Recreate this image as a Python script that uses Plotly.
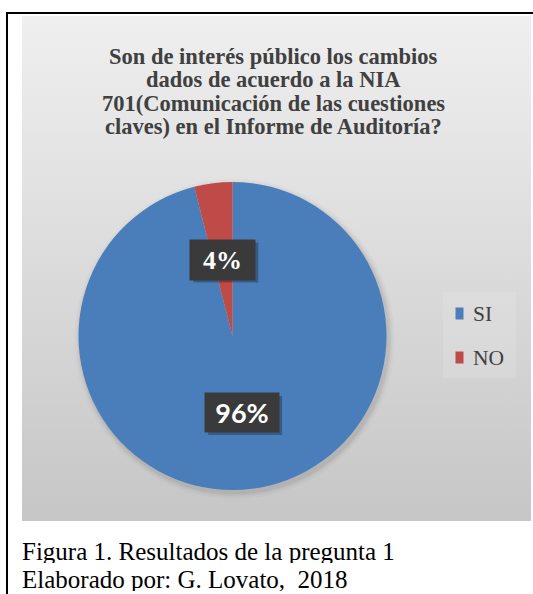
import numpy as np
import plotly.graph_objects as go

W, H = 533, 594

# ---- data -------------------------------------------------------------
title_lines = [
    "Son de interés público los cambios",
    "dados de acuerdo a la NIA",
    "701(Comunicación de las cuestiones",
    "claves) en el Informe de Auditoría?",
]
categories = ["SI", "NO"]
percentages = [96, 4]
caption_lines = [
    "Figura 1. Resultados de la pregunta 1",
    "Elaborado por: G. Lovato,  2018",
]

# ---- styling ----------------------------------------------------------
slice_colors = ["#4a7ebb", "#be4b48"]
SERIF = "Liberation Serif"
label_fonts = [dict(family="Lato", size=27, color="white", weight="bold"),
               dict(family=SERIF, size=26, color="white", weight="bold")]
label_boxes = [(70, 35), (61, 36)]
CAPTION_SIZE = 25

# chart panel and pie geometry (pixels)
AX0, AX1, AY0, AY1 = 22, 531, 16, 521
CX, CY, R = 232.5, 336, 154


def fx(x):
    return x / W


def fy(y):
    return 1 - y / H


def ux(x):
    return (x - AX0) / (AX1 - AX0)


def uy(y):
    return (AY1 - y) / (AY1 - AY0)


fig = go.Figure()

# grey panel with vertical gradient
fig.add_trace(go.Scatter(
    x=[0, 1, 1, 0, 0], y=[0, 0, 1, 1, 0], mode="lines", fill="toself",
    line=dict(width=0, color="rgba(0,0,0,0)"),
    fillgradient=dict(type="vertical",
                      colorscale=[[0, "#c6c6c6"], [0.55, "#dddddd"], [1, "#efefef"]]),
    hoverinfo="skip", showlegend=False,
))

# soft shadow around the pie
t = np.linspace(0, 2 * np.pi, 200)
for dr, alpha in [(6, 0.025), (4, 0.035), (2.5, 0.05), (1.2, 0.06)]:
    fig.add_trace(go.Scatter(
        x=ux(CX + 2 + (R + dr) * np.cos(t)), y=uy(CY + 3 + (R + dr) * np.sin(t)),
        mode="lines", fill="toself", line=dict(width=0, color="rgba(0,0,0,0)"),
        fillcolor=f"rgba(60,60,60,{alpha})", hoverinfo="skip", showlegend=False,
    ))

fig.add_trace(go.Pie(
    labels=categories, values=percentages, sort=False, direction="clockwise",
    rotation=0, textinfo="none", hoverinfo="label+percent", showlegend=False,
    marker=dict(colors=slice_colors, line=dict(width=0)),
    domain=dict(x=[fx(CX - R), fx(CX + R)], y=[fy(CY + R), fy(CY - R)]),
))

annotations = []
shapes = []

# title
for i, line in enumerate(title_lines):
    annotations.append(dict(
        text=line, x=fx(273), y=fy(56 + 23.5 * i), xref="paper", yref="paper",
        xanchor="center", yanchor="middle", showarrow=False,
        font=dict(family=SERIF, size=22.5, color="#404040", weight="bold"),
    ))

# data labels placed halfway along each slice's bisector
total = sum(percentages)
cum = 0
for cat, val, font, (bw, bh) in zip(categories, percentages, label_fonts, label_boxes):
    mid = (cum + val / 2) / total
    cum += val
    theta = 2 * np.pi * mid
    lx = CX + 0.5 * R * np.sin(theta)
    ly = CY - 0.5 * R * np.cos(theta)
    # drop shadow behind the label box
    shapes.append(dict(type="rect", xref="paper", yref="paper", layer="above",
                       x0=fx(lx - bw / 2 - 2 + 3), x1=fx(lx + bw / 2 + 2 + 3),
                       y0=fy(ly + bh / 2 + 2 + 3), y1=fy(ly - bh / 2 - 2 + 3),
                       fillcolor="rgba(0,0,0,0.28)", line=dict(width=0)))
    annotations.append(dict(
        text=f"{round(100 * val / total)}%", x=fx(lx), y=fy(ly), xref="paper",
        yref="paper", xanchor="center", yanchor="middle", showarrow=False,
        width=bw, height=bh, borderpad=2, bgcolor="#3a3a3a", font=font,
    ))

# legend
shapes.append(dict(type="rect", xref="paper", yref="paper", layer="above",
                   x0=fx(443), x1=fx(516), y0=fy(378), y1=fy(292),
                   fillcolor="rgba(255,255,255,0.12)", line=dict(width=0)))
for i, (cat, col) in enumerate(zip(categories, slice_colors)):
    yc = 313.5 + 44 * i
    shapes.append(dict(type="rect", xref="paper", yref="paper", layer="above",
                       x0=fx(455.5), x1=fx(463.5), y0=fy(yc + 6), y1=fy(yc - 6),
                       fillcolor=col, line=dict(width=0)))
    annotations.append(dict(text=cat, x=fx(471), y=fy(yc), xref="paper", yref="paper",
                            xanchor="left", yanchor="middle", showarrow=False,
                            font=dict(family=SERIF, size=21.5, color="#404040")))

# caption below the chart panel
for i, line in enumerate(caption_lines):
    annotations.append(dict(
        text=line, x=fx(21), y=fy(551 + 27.6 * i), xref="paper", yref="paper",
        xanchor="left", yanchor="middle", showarrow=False,
        height=24, borderpad=0,
        font=dict(family=SERIF, size=CAPTION_SIZE, color="black"),
    ))

# frame around figure
shapes.append(dict(type="line", xref="paper", yref="paper", layer="above",
                   x0=fx(7), x1=fx(7), y0=0, y1=fy(12), line=dict(color="black", width=2)))
shapes.append(dict(type="line", xref="paper", yref="paper", layer="above",
                   x0=fx(6), x1=1, y0=fy(13), y1=fy(13), line=dict(color="black", width=2)))

fig.update_layout(
    width=W, height=H, margin=dict(l=0, r=0, t=0, b=0),
    paper_bgcolor="white", plot_bgcolor="rgba(0,0,0,0)",
    xaxis=dict(domain=[fx(AX0), fx(AX1)], range=[0, 1], visible=False, fixedrange=True),
    yaxis=dict(domain=[fy(AY1), fy(AY0)], range=[0, 1], visible=False, fixedrange=True),
    annotations=annotations, shapes=shapes, showlegend=False,
)

fig.write_html("out.html")
